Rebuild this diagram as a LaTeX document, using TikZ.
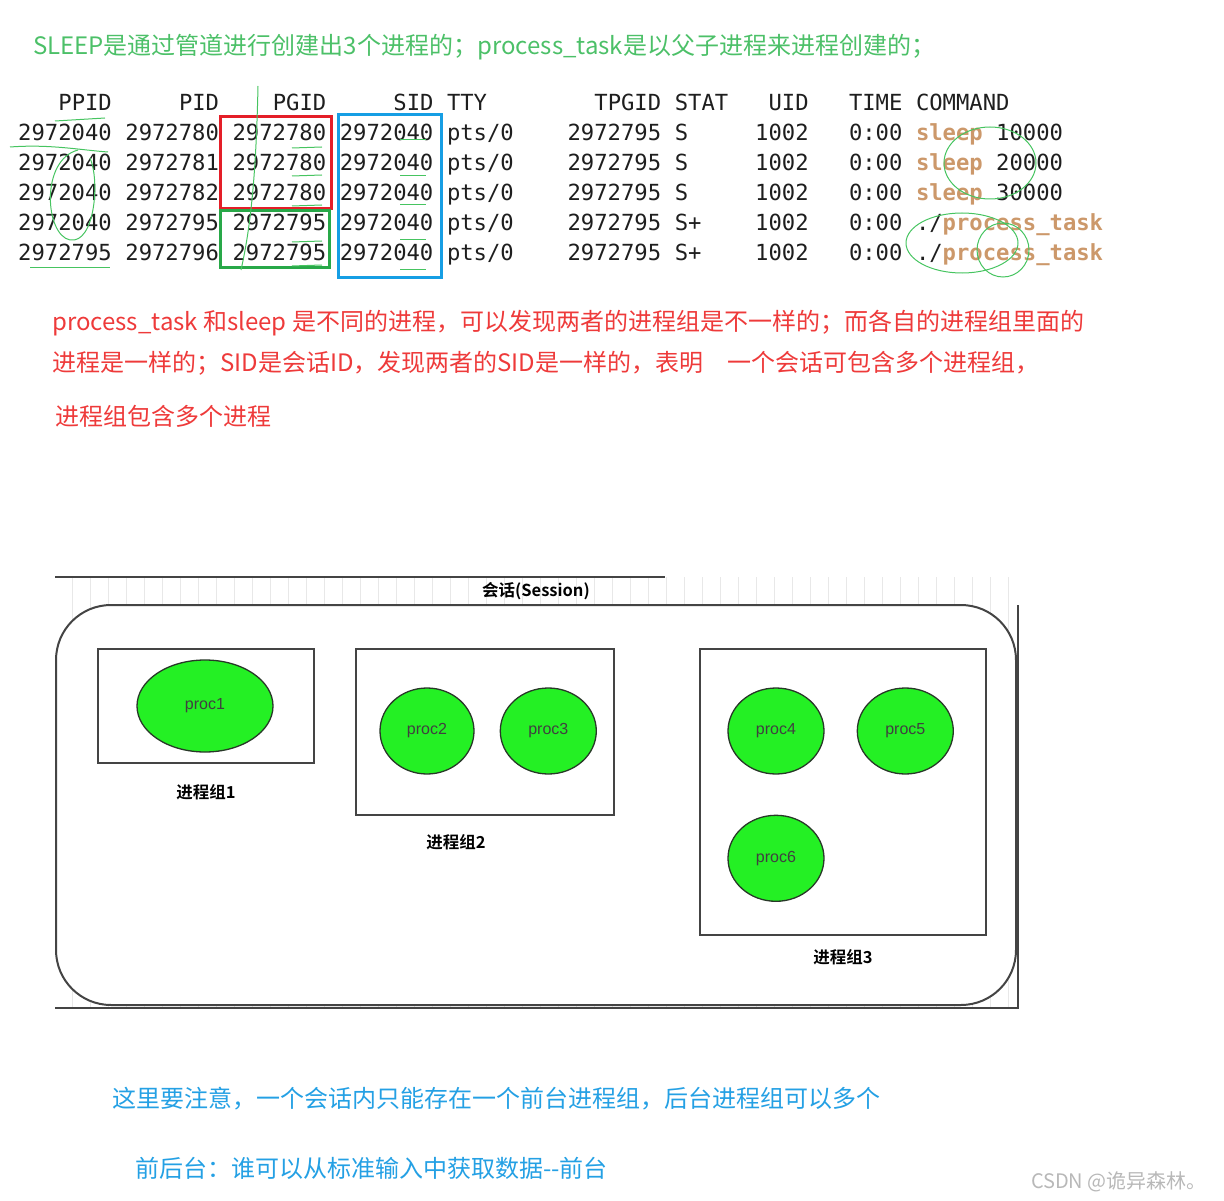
\documentclass[tikz,border=0pt]{standalone}
\usepackage{fontspec}
\setmainfont{Noto Sans CJK SC}[BoldFont={Noto Sans CJK SC Bold}]
\newfontfamily\termfont{DejaVu Sans Mono}
\newfontfamily\drawfont{Liberation Sans}
\usetikzlibrary{shapes.geometric,positioning}

\definecolor{titlegreen}{RGB}{76,192,104}
\definecolor{notered}{RGB}{238,58,58}
\definecolor{noteblue}{RGB}{36,160,228}
\definecolor{cmdtan}{RGB}{204,152,106}
\definecolor{termblack}{RGB}{30,30,30}
\definecolor{boxred}{RGB}{228,30,40}
\definecolor{boxgreen}{RGB}{40,168,72}
\definecolor{boxblue}{RGB}{22,158,228}
\definecolor{inkgreen}{RGB}{70,196,96}
\definecolor{procgreen}{RGB}{36,240,36}
\definecolor{procline}{RGB}{40,56,40}
\definecolor{boxgray}{RGB}{68,68,68}

\begin{document}
\begin{tikzpicture}[x=1pt,y=-1pt,
  note/.style={anchor=west,inner sep=0pt,font=\fontsize{24}{28}\selectfont},
  term/.style={anchor=base west,inner sep=0pt,text=termblack,font=\termfont\fontsize{22.2}{26}\selectfont},
  ink/.style={draw=inkgreen,line width=1pt},
  grp/.style={draw=boxgray,line width=2pt},
  grplabel/.style={inner sep=0pt,font=\bfseries\fontsize{16.5}{19}\selectfont},
  proc/.style={ellipse,draw=procline,fill=procgreen,line width=1.3pt,inner sep=0pt,
    minimum width=96,minimum height=86,text=black!75,font=\drawfont\fontsize{16}{18}\selectfont}]
\useasboundingbox (0,0) rectangle (1224,1201);

\node[note,text=titlegreen] (title) at (33,47) {SLEEP是通过管道进行创建出3个进程的；process\_task是以父子进程来进程创建的；};

\foreach \i/\t [count=\c] in {3/PPID,12/PID,19/PGID,28/SID,32/TTY,43/TPGID,49/STAT,56/UID,62/TIME,67/COMMAND}
  \node[term] (head-\c) at (18+\i*13.4,111) {\t};
\foreach \ppid/\pid/\pgid/\stat/\cmd [count=\r] in {
  2972040/2972780/2972780/S/{\textcolor{cmdtan}{\bfseries sleep} 10000},
  2972040/2972781/2972780/S/{\textcolor{cmdtan}{\bfseries sleep} 20000},
  2972040/2972782/2972780/S/{\textcolor{cmdtan}{\bfseries sleep} 30000},
  2972040/2972795/2972795/S+/{./\textcolor{cmdtan}{\bfseries process\_task}},
  2972795/2972796/2972795/S+/{./\textcolor{cmdtan}{\bfseries process\_task}}}
  \foreach \i/\t [count=\c] in {0/\ppid,8/\pid,16/\pgid,24/2972040,32/{pts/0},41/2972795,49/\stat,55/1002,62/{0:00},67/\cmd}
    \node[term] (cell-\r-\c) at (18+\i*13.4,111+30*\r) {\t};

\draw[boxred,line width=3pt] (220,117) rectangle (331,209);
\draw[boxgreen,line width=3pt] (220,211) rectangle (329,268);
\draw[boxblue,line width=3pt] (338,115) rectangle (441,278);

\draw[ink] (258,86) .. controls (256,180) and (250,230) .. (241,270);
\draw[ink] (55,121) -- (105,118);
\draw[ink] (10,147) .. controls (50,144) and (80,150) .. (108,152);
\draw[ink] (78,150) .. controls (40,160) and (45,235) .. (70,240) .. controls (95,244) and (100,180) .. (90,158);
\draw[ink] (30,268) -- (110,268);
\foreach \y in {148,176,206,242,266} \draw[ink] (292,\y) -- (322,\y-1);
\foreach \y in {140,176,205,240,270} \draw[ink] (400,\y) -- (426,\y);
\draw[ink] (990,163) ellipse [x radius=46,y radius=36];
\draw[ink] (962,243) ellipse [x radius=56,y radius=30];
\draw[ink] (1003,250) ellipse [x radius=26,y radius=27];

\node[note,text=notered] (red-1) at (52,323) {process\_task 和sleep 是不同的进程，可以发现两者的进程组是不一样的；而各自的进程组里面的};
\node[note,text=notered] (red-2) at (52,363) {进程是一样的；SID是会话ID，发现两者的SID是一样的，表明\hspace{24pt}一个会话可包含多个进程组，};
\node[note,text=notered] (red-3) at (55,416) {进程组包含多个进程};

\begin{scope}
  \clip (55,577) rectangle (1018,1008);
  \draw[black!9,line width=0.6pt,step=18] (55,577) grid (1018,1008);
\end{scope}
\draw[boxgray,line width=1.5pt] (55,577) -- (665,577);
\draw[boxgray,line width=1.2pt] (1018,605) -- (1018,1008) -- (55,1008);
\node[draw=boxgray,fill=white,line width=2pt,rounded corners=55,minimum width=960,minimum height=400] (session) at (536,805) {};
\node[grplabel,above=4pt of session] (session-label) {会话(Session)};

\node[grp,minimum width=216,minimum height=114] (group-1) at (206,706) {};
\node[grp,minimum width=258,minimum height=166] (group-2) at (485,732) {};
\node[grp,minimum width=286,minimum height=286] (group-3) at (843,792) {};
\node[grplabel,below=20pt of group-1] (group-1-label) {进程组1};
\node[grplabel,below=18pt of group-2,xshift=-29pt] (group-2-label) {进程组2};
\node[grplabel,below=13pt of group-3] (group-3-label) {进程组3};

\node[proc,minimum width=136,minimum height=92] (proc1) at (205,706) {proc1};
\node[proc,minimum width=94] (proc2) at (427,731) {proc2};
\node[proc,right=25pt of proc2] (proc3) {proc3};
\node[proc] (proc4) at (776,731) {proc4};
\node[proc,right=32pt of proc4] (proc5) {proc5};
\node[proc,below=40pt of proc4] (proc6) {proc6};

\node[note,text=noteblue] (blue-1) at (112,1099) {这里要注意，一个会话内只能存在一个前台进程组，后台进程组可以多个};
\node[note,text=noteblue] (blue-2) at (135,1168) {前后台：谁可以从标准输入中获取数据{-}{-}前台};
\node[anchor=east,inner sep=0pt,text=black!28,font=\fontsize{20}{22}\selectfont] (mark) at (1207,1182) {CSDN @诡异森林。};
\end{tikzpicture}
\end{document}
